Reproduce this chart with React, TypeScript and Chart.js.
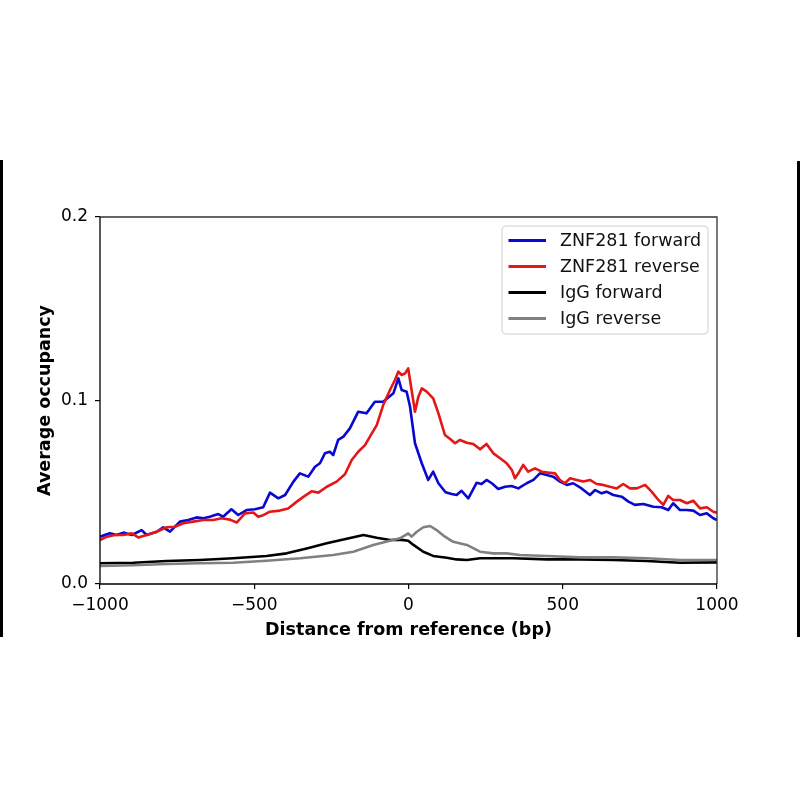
import React, { useEffect, useRef } from "react";
import { Chart, registerables } from "chart.js";

Chart.register(...registerables);

// ---- Data (bp, average occupancy) ----
const blueX = [-1000, -968, -946, -924, -897, -865, -849, -816, -795, -773, -741, -714, -687, -665, -644, -617, -601, -574, -552, -525, -498, -471, -449, -422, -400, -373, -352, -325, -303, -287, -271, -255, -244, -228, -211, -190, -163, -136, -109, -82, -49, -33, -22, -6, 5, 21, 43, 64, 80, 97, 120, 140, 156, 172, 194, 221, 237, 253, 270, 291, 313, 334, 356, 383, 405, 426, 448, 469, 491, 513, 534, 561, 588, 605, 626, 642, 664, 691, 713, 734, 761, 794, 821, 842, 858, 880, 902, 923, 945, 967, 988, 1000];
const blueY = [0.0258, 0.0276, 0.0267, 0.028, 0.0267, 0.0294, 0.0267, 0.0285, 0.0309, 0.0285, 0.034, 0.0349, 0.0363, 0.0358, 0.0367, 0.0381, 0.0367, 0.0407, 0.0376, 0.0403, 0.0407, 0.0418, 0.0498, 0.0467, 0.0485, 0.0558, 0.0603, 0.0585, 0.0639, 0.0658, 0.0712, 0.0721, 0.0703, 0.0785, 0.0803, 0.0848, 0.0939, 0.093, 0.0993, 0.0993, 0.1039, 0.1121, 0.1057, 0.1048, 0.0966, 0.0767, 0.0658, 0.0567, 0.0612, 0.0549, 0.05, 0.049, 0.0485, 0.0508, 0.0467, 0.0552, 0.0545, 0.0567, 0.0549, 0.0518, 0.053, 0.0534, 0.0521, 0.0549, 0.0567, 0.0603, 0.0594, 0.0585, 0.0558, 0.054, 0.0549, 0.0521, 0.0485, 0.0512, 0.0494, 0.0503, 0.0485, 0.0476, 0.0449, 0.0431, 0.0436, 0.0421, 0.0418, 0.0403, 0.044, 0.0403, 0.0403, 0.04, 0.0376, 0.0385, 0.0358, 0.0349];

const redX = [-1000, -978, -951, -925, -897, -876, -849, -816, -784, -757, -730, -698, -665, -633, -606, -579, -557, -530, -503, -487, -471, -449, -417, -390, -362, -336, -314, -292, -265, -233, -206, -184, -163, -141, -125, -103, -82, -60, -44, -33, -22, -11, -1, 10, 21, 32, 43, 59, 80, 97, 118, 135, 151, 167, 189, 210, 232, 253, 275, 297, 318, 335, 345, 356, 372, 388, 410, 432, 453, 475, 491, 507, 524, 545, 567, 588, 610, 631, 653, 675, 696, 718, 740, 767, 788, 810, 826, 842, 858, 880, 902, 923, 945, 967, 988, 1000];
const redY = [0.024, 0.0258, 0.0267, 0.0267, 0.0276, 0.0254, 0.0267, 0.0285, 0.0309, 0.0312, 0.0331, 0.034, 0.0349, 0.0349, 0.0358, 0.0351, 0.0335, 0.0385, 0.039, 0.0367, 0.0375, 0.0394, 0.04, 0.0412, 0.0449, 0.048, 0.0505, 0.0498, 0.053, 0.0558, 0.0598, 0.0676, 0.0721, 0.0757, 0.0803, 0.0866, 0.0975, 0.1057, 0.1112, 0.1157, 0.1139, 0.1148, 0.1175, 0.1057, 0.0939, 0.1021, 0.1066, 0.1048, 0.1012, 0.093, 0.0812, 0.079, 0.0767, 0.0785, 0.077, 0.0763, 0.0734, 0.0763, 0.0712, 0.0685, 0.0658, 0.0621, 0.0576, 0.0603, 0.0649, 0.0612, 0.063, 0.0612, 0.0607, 0.0603, 0.0567, 0.0549, 0.0576, 0.0567, 0.0558, 0.0567, 0.0545, 0.054, 0.053, 0.0521, 0.0545, 0.0521, 0.0521, 0.054, 0.0503, 0.0458, 0.0431, 0.048, 0.0458, 0.0458, 0.044, 0.0454, 0.0412, 0.0418, 0.0394, 0.0389];

const iggFwdX = [-1000, -892, -784, -676, -568, -460, -395, -330, -265, -211, -146, -103, -60, -28, -1, 16, 48, 80, 124, 156, 189, 232, 340, 448, 556, 664, 772, 880, 1000];
const iggFwdY = [0.0113, 0.0116, 0.0125, 0.0131, 0.014, 0.0153, 0.0167, 0.0194, 0.0222, 0.0243, 0.0267, 0.0252, 0.024, 0.0242, 0.0236, 0.0213, 0.0176, 0.0153, 0.0143, 0.0134, 0.0131, 0.014, 0.014, 0.0134, 0.0134, 0.0131, 0.0125, 0.0116, 0.0118];

const iggRevX = [-1000, -892, -784, -676, -568, -460, -351, -244, -179, -114, -92, -60, -28, -6, -1, 10, 27, 48, 70, 91, 118, 145, 189, 232, 275, 318, 361, 448, 556, 664, 772, 880, 1000];
const iggRevY = [0.0098, 0.0102, 0.0109, 0.0113, 0.0116, 0.0127, 0.014, 0.0158, 0.0176, 0.0213, 0.0222, 0.0236, 0.0249, 0.027, 0.0276, 0.0258, 0.0285, 0.0309, 0.0316, 0.0294, 0.0258, 0.023, 0.0213, 0.0176, 0.0167, 0.0167, 0.0158, 0.0153, 0.0145, 0.0145, 0.014, 0.0131, 0.0131];

const seriesLabels = ["ZNF281 forward", "ZNF281 reverse", "IgG forward", "IgG reverse"];
const seriesColors = ["rgb(8,8,210)", "rgb(228,22,22)", "#000000", "#808080"];

const xTicks = [-1000, -500, 0, 500, 1000];
const yTicks = [0.0, 0.1, 0.2];

const FONT = "'DejaVu Sans', sans-serif";

const toPts = (xs: number[], ys: number[]) => xs.map((x, i) => ({ x, y: ys[i] }));

const framePlugin = {
  id: "frame",
  afterDatasetsDraw(chart: any) {
    const { ctx, chartArea: a } = chart;
    ctx.save();
    ctx.lineWidth = 1.3;
    ctx.strokeStyle = "#333";
    ctx.beginPath();
    ctx.moveTo(a.left, a.top);
    ctx.lineTo(a.right, a.top);
    ctx.lineTo(a.right, a.bottom);
    ctx.stroke();
    ctx.strokeStyle = "#000";
    ctx.beginPath();
    ctx.moveTo(a.left, a.top);
    ctx.lineTo(a.left, a.bottom);
    ctx.lineTo(a.right, a.bottom);
    ctx.stroke();
    ctx.restore();
  },
  afterDraw(chart: any) {
    const { ctx, chartArea: a } = chart;
    const w = 206, h = 108;
    const bx = a.right - 9 - w;
    const by = a.top + 9;
    ctx.save();
    ctx.beginPath();
    const r = 4;
    ctx.moveTo(bx + r, by);
    ctx.lineTo(bx + w - r, by);
    ctx.quadraticCurveTo(bx + w, by, bx + w, by + r);
    ctx.lineTo(bx + w, by + h - r);
    ctx.quadraticCurveTo(bx + w, by + h, bx + w - r, by + h);
    ctx.lineTo(bx + r, by + h);
    ctx.quadraticCurveTo(bx, by + h, bx, by + h - r);
    ctx.lineTo(bx, by + r);
    ctx.quadraticCurveTo(bx, by, bx + r, by);
    ctx.closePath();
    ctx.fillStyle = "rgba(255,255,255,0.85)";
    ctx.fill();
    ctx.strokeStyle = "#d0d0d0";
    ctx.lineWidth = 1;
    ctx.stroke();
    ctx.font = `17.5px ${FONT}`;
    ctx.textBaseline = "middle";
    ctx.textAlign = "left";
    seriesLabels.forEach((lab, i) => {
      const y = by + 14.5 + i * 26;
      ctx.strokeStyle = seriesColors[i];
      ctx.lineWidth = 2.8;
      ctx.beginPath();
      ctx.moveTo(bx + 6.5, y);
      ctx.lineTo(bx + 44, y);
      ctx.stroke();
      ctx.fillStyle = "#111";
      ctx.fillText(lab, bx + 58, y + 1);
    });
    ctx.restore();
  },
};

export default function App() {
  const ref = useRef<HTMLCanvasElement | null>(null);
  useEffect(() => {
    if (!ref.current) return;
    const data = [toPts(blueX, blueY), toPts(redX, redY), toPts(iggFwdX, iggFwdY), toPts(iggRevX, iggRevY)];
    const chart = new Chart(ref.current, {
      type: "line",
      data: {
        datasets: data.map((d, i) => ({
          label: seriesLabels[i],
          data: d,
          borderColor: seriesColors[i],
          backgroundColor: seriesColors[i],
          borderWidth: 2.6,
          borderJoinStyle: "round",
          pointRadius: 0,
          tension: 0,
          fill: false,
          order: 4 - i,
        })),
      },
      options: {
        animation: false,
        responsive: false,
        maintainAspectRatio: false,
        devicePixelRatio: 1,
        layout: { padding: { left: 0, right: 83, top: 217, bottom: 150 } },
        plugins: { legend: { display: false }, tooltip: { enabled: false } },
        scales: {
          x: {
            type: "linear",
            min: -1000,
            max: 1000,
            afterFit: (s: any) => { s.height = 66; },
            afterBuildTicks: (s: any) => { s.ticks = xTicks.map((v) => ({ value: v })); },
            ticks: {
              color: "#000",
              font: { family: FONT, size: 17 },
              padding: 6,
              maxRotation: 0,
              autoSkip: false,
              callback: (v: any) => (Number(v) < 0 ? "\u2212" + Math.abs(Number(v)) : String(v)),
            },
            grid: { display: true, drawOnChartArea: false, drawTicks: true, tickLength: 5, color: "#000", lineWidth: 1.2 },
            border: { display: false },
            title: {
              display: true,
              text: "Distance from reference (bp)",
              color: "#000",
              font: { family: FONT, size: 17.5, weight: "bold" },
              padding: { top: 0, bottom: 9.5 },
            },
          },
          y: {
            type: "linear",
            min: 0,
            max: 0.2,
            afterFit: (s: any) => { s.width = 100; },
            afterBuildTicks: (s: any) => { s.ticks = yTicks.map((v) => ({ value: v })); },
            ticks: {
              color: "#000",
              font: { family: FONT, size: 17 },
              padding: 7,
              autoSkip: false,
              callback: (v: any) => Number(v).toFixed(1),
            },
            grid: { display: true, drawOnChartArea: false, drawTicks: true, tickLength: 5, color: "#000", lineWidth: 1.2 },
            border: { display: false },
            title: {
              display: true,
              text: "Average occupancy",
              color: "#000",
              font: { family: FONT, size: 17.5, weight: "bold" },
              padding: { top: 35, bottom: 0 },
            },
          },
        },
      },
      plugins: [framePlugin],
    });
    return () => chart.destroy();
  }, []);

  return (
    <div style={{ position: "absolute", left: 0, top: 0, width: 800, height: 800, background: "#fff" }}>
      <canvas ref={ref} width={800} height={800} style={{ position: "absolute", left: 0, top: 0, width: 800, height: 800 }} />
      <div style={{ position: "absolute", left: 0, top: 160, width: 3, height: 477, background: "#000" }} />
      <div style={{ position: "absolute", left: 797, top: 161, width: 3, height: 476, background: "#000" }} />
    </div>
  );
}
